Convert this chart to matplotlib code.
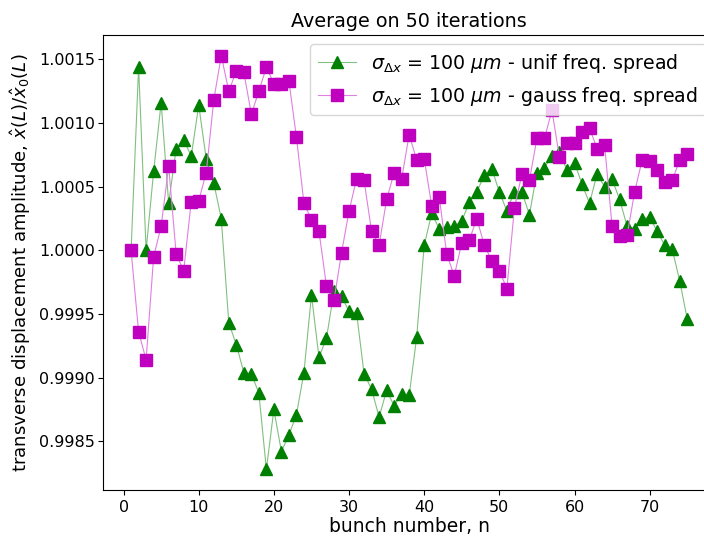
import matplotlib
matplotlib.use("Agg")
import matplotlib.pyplot as plt
import numpy as np

# bunch numbers 1..75
bunch = np.arange(1, 76)

# uniform frequency spread (green triangles)
unif = [
    1.00000, 1.00144, 1.00000, 1.00062, 1.00116, 1.00037, 1.00080, 1.00087, 1.00074, 1.00114,
    1.00072, 1.00053, 1.00025, 0.99943, 0.99926, 0.99904, 0.99903, 0.99888, 0.99828, 0.99875,
    0.99842, 0.99855, 0.99871, 0.99904, 0.99965, 0.99916, 0.99931, 0.99968, 0.99964, 0.99952,
    0.99951, 0.99903, 0.99891, 0.99869, 0.99890, 0.99878, 0.99887, 0.99886, 0.99932, 1.00004,
    1.00029, 1.00017, 1.00018, 1.00019, 1.00023, 1.00038, 1.00046, 1.00059, 1.00064, 1.00046,
    1.00031, 1.00046, 1.00046, 1.00028, 1.00061, 1.00065, 1.00074, 1.00077, 1.00063, 1.00069,
    1.00052, 1.00037, 1.00060, 1.00050, 1.00056, 1.00040, 1.00019, 1.00017, 1.00025, 1.00026,
    1.00015, 1.00004, 1.00001, 0.99976, 0.99946,
]

# gaussian frequency spread (magenta squares)
gauss = [
    1.00000, 0.99936, 0.99914, 0.99995, 1.00019, 1.00066, 0.99997, 0.99984, 1.00038, 1.00039,
    1.00061, 1.00118, 1.00153, 1.00125, 1.00141, 1.00140, 1.00107, 1.00125, 1.00144, 1.00131,
    1.00131, 1.00133, 1.00089, 1.00037, 1.00024, 1.00015, 0.99972, 0.99961, 0.99998, 1.00031,
    1.00056, 1.00055, 1.00015, 1.00004, 1.00040, 1.00061, 1.00056, 1.00091, 1.00071, 1.00072,
    1.00035, 1.00042, 0.99997, 0.99980, 1.00006, 1.00008, 1.00025, 1.00004, 0.99992, 0.99984,
    0.99970, 1.00033, 1.00060, 1.00055, 1.00088, 1.00088, 1.00110, 1.00073, 1.00084, 1.00084,
    1.00093, 1.00096, 1.00080, 1.00083, 1.00019, 1.00011, 1.00012, 1.00046, 1.00071, 1.00070,
    1.00063, 1.00054, 1.00055, 1.00071, 1.00076,
]

fig = plt.figure(figsize=(7.04, 5.36), dpi=100)
# the original picture is cropped on the right, so the axes run past the figure edge
ax = fig.add_axes([0.1467, 0.0858, 0.869, 0.849])

ax.plot(bunch, unif, color='#80c080', linewidth=0.8, marker='^', markersize=9,
        markerfacecolor='g', markeredgecolor='g',
        label=r'$\sigma_{\Delta x}$ = 100 $\mu m$ - unif freq. spread')
ax.plot(bunch, gauss, color='#e080e0', linewidth=0.8, marker='s', markersize=9,
        markerfacecolor='m', markeredgecolor='m',
        label=r'$\sigma_{\Delta x}$ = 100 $\mu m$ - gauss freq. spread')

ax.set_title('Average on 50 iterations', fontsize=13.8)
ax.set_xlabel('bunch number, n', fontsize=13.5, labelpad=1)
ax.set_ylabel(r'transverse displacement amplitude, $\hat{x}(L)/\hat{x}_0(L)$', fontsize=13.1)
ax.tick_params(labelsize=11.5)
ax.tick_params(axis='x', pad=4)
ax.tick_params(axis='y', pad=2.5)
ax.ticklabel_format(axis='y', useOffset=False)
ax.set_xticks([0, 10, 20, 30, 40, 50, 60, 70])
ax.set_yticks([0.9985, 0.9990, 0.9995, 1.0000, 1.0005, 1.0010, 1.0015])
ax.legend(loc='upper right', fontsize=13.7)

fig.savefig('out.png', dpi=100)
